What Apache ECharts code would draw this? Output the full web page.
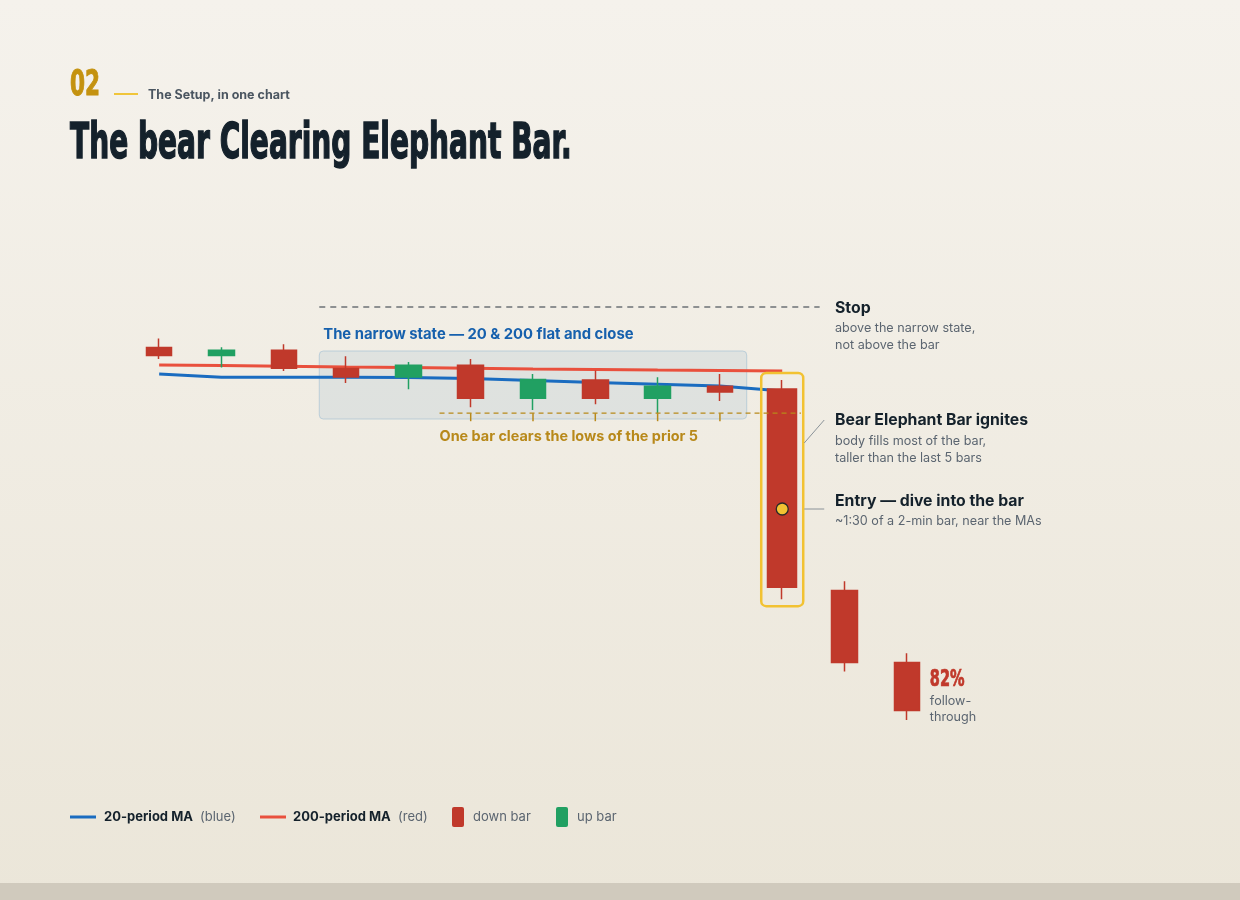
<!DOCTYPE html>
<html>
<head>
<meta charset="utf-8">
<script src="https://cdn.jsdelivr.net/npm/echarts@6/dist/echarts.min.js"></script>
<style>
  html, body { margin: 0; padding: 0; }
  body { background: linear-gradient(#f5f2ec, #ebe6d9); }
  #main { width: 1240px; height: 900px; }
</style>
</head>
<body>
<div id="main"></div>
<script>
// bars, left to right (price units are arbitrary)
var categories = ['1', '2', '3', '4', '5', '6', '7', '8', '9', '10', '11', '12', '13'];
var opens  = [97.63, 97.22, 97.49, 96.57, 96.15, 96.74, 95.09, 96.00, 95.09, 95.69, 95.55, 85.47, 81.87];
var closes = [97.22, 97.49, 96.59, 96.15, 96.74, 95.09, 96.02, 95.09, 95.69, 95.40, 85.64, 81.87, 79.47];
var lows   = [97.05, 96.62, 96.45, 95.85, 95.54, 94.64, 94.50, 94.79, 94.34, 94.95, 85.04, 81.42, 79.00];
var highs  = [98.08, 97.64, 97.79, 97.19, 96.90, 97.05, 96.30, 96.47, 96.14, 96.30, 96.00, 85.94, 82.34];
var ma20   = [96.30, 96.14, 96.14, 96.14, 96.13, 96.08, 95.98, 95.88, 95.79, 95.70, 95.45];
var ma200  = [96.75, 96.73, 96.69, 96.65, 96.62, 96.59, 96.55, 96.53, 96.50, 96.48, 96.45];

var stopPrice = 99.65;
var narrowTop = 97.45, narrowBottom = 94.05;
var entryPrice = 89.55;
var elephantIndex = 10;
var priorFive = [5, 6, 7, 8, 9];

var RED = '#c0392b', GREEN = '#21a062', BLUE = '#1a6cc0', MARED = '#e9503d';
var INK = '#14212b', GREY = '#5b6570', GOLD = '#b8891a';
var SANS = 'Inter, "Noto Sans", sans-serif';
var NARROW = '"Liberation Sans Narrow", "DejaVu Sans Condensed", sans-serif';

var myChart = echarts.init(document.getElementById('main'));

var candleData = categories.map(function (c, i) {
  return i === elephantIndex ? '-' : [opens[i], closes[i], lows[i], highs[i]];
});
var elephantData = categories.map(function (c, i) {
  return i === elephantIndex ? [opens[i], closes[i], lows[i], highs[i]] : '-';
});
var candleStyle = { color: GREEN, color0: RED, borderColor: GREEN, borderColor0: RED, borderWidth: 1.5 };

myChart.setOption({
  animation: false,
  grid: { left: 128, right: 302, top: 300, bottom: 160 },
  xAxis: { type: 'category', data: categories, show: false, boundaryGap: true },
  yAxis: { type: 'value', min: 78, max: 100, show: false },
  series: [
    { name: '200-period MA', type: 'line', data: ma200, symbol: 'none', z: 1,
      lineStyle: { color: MARED, width: 3 } },
    { name: '20-period MA', type: 'line', data: ma20, symbol: 'none', z: 1,
      lineStyle: { color: BLUE, width: 3 } },
    { type: 'candlestick', data: candleData, barWidth: 26, z: 3, itemStyle: candleStyle },
    { type: 'candlestick', data: elephantData, barWidth: 30, z: 3, itemStyle: candleStyle }
  ]
});

// annotation positions come from the chart's own scales
var x0 = myChart.convertToPixel({ gridIndex: 0 }, [0, 90])[0];
var step = myChart.convertToPixel({ gridIndex: 0 }, [1, 90])[0] - x0;
function xAt(i) { return x0 + i * step; }
function yAt(p) { return myChart.convertToPixel({ gridIndex: 0 }, [0, p])[1]; }

var clearLow = Math.min.apply(null, priorFive.map(function (i) { return lows[i]; }));
var yClear = yAt(clearLow);
var ex = xAt(elephantIndex);
var boxTop = yAt(highs[elephantIndex]) - 7, boxBot = yAt(lows[elephantIndex]) + 7;
var lx = 835;

function txt(x, y, s, size, color, weight, family, extra) {
  var el = { type: 'text', x: x, y: y, z: 50,
    style: { text: s, fontSize: size, fill: color, fontWeight: weight || 'normal',
      fontFamily: family || SANS, verticalAlign: 'middle', align: 'left' } };
  if (extra) for (var k in extra) el[k] = extra[k];
  return el;
}
function heavy(el, w) {
  el.style.stroke = el.style.fill;
  el.style.lineWidth = w;
  return el;
}
function seg(x1, y1, x2, y2, color, w, dash) {
  return { type: 'line', z: 5, shape: { x1: x1, y1: y1, x2: x2, y2: y2 },
    style: { stroke: color, lineWidth: w, lineDash: dash || null } };
}

var g = [];
g.push({ type: 'rect', shape: { x: 0, y: 883, width: 1240, height: 17 }, style: { fill: '#d0cabd' } });
// header
g.push(heavy(txt(70, 86, '02', 30, '#c4920f', 'bold', NARROW, { scaleX: 0.8, scaleY: 1.2 }), 0.8));
g.push(seg(114, 94, 138, 94, '#f0c53a', 2));
g.push(txt(148, 95, 'The Setup, in one chart', 12.5, '#4a5560', 'bold'));
g.push(heavy(txt(70, 145, 'The bear Clearing Elephant Bar.', 40, INK, 'bold', NARROW, { scaleX: 0.78, scaleY: 1.25 }), 1.2));

// narrow state box
var nx1 = xAt(2.57), nx2 = xAt(9.43);
g.push({ type: 'rect', z: 0, shape: { x: nx1, y: yAt(narrowTop), width: nx2 - nx1, height: yAt(narrowBottom) - yAt(narrowTop), r: 4 },
  style: { fill: 'rgba(190,205,215,0.35)', stroke: 'rgba(170,195,212,0.7)', lineWidth: 1 } });
g.push(txt(nx1 + 4, 335, 'The narrow state — 20 & 200 flat and close', 14.8, '#1660ad', 'bold'));

// stop line
g.push(seg(nx1, yAt(stopPrice), xAt(10.6), yAt(stopPrice), '#6c7175', 1.6, [6, 5]));
g.push(txt(lx, 308, 'Stop', 15.8, INK, 'bold'));
g.push(txt(lx, 328, 'above the narrow state,', 12.6, GREY));
g.push(txt(lx, 345, 'not above the bar', 12.6, GREY));

// clearing line with ticks under the prior five
g.push(seg(xAt(4.5), yClear, xAt(10.3), yClear, GOLD, 1.3, [5, 4]));
priorFive.forEach(function (i) { g.push(seg(xAt(i), yClear, xAt(i), yClear + 8, GOLD, 1.5)); });
g.push(txt(xAt(4.5), 437, 'One bar clears the lows of the prior 5', 14.4, GOLD, 'bold'));

// elephant bar frame, entry dot, callouts
g.push({ type: 'rect', z: 4, shape: { x: ex - 21, y: boxTop, width: 42, height: boxBot - boxTop, r: 5 },
  style: { fill: 'none', stroke: '#f2c232', lineWidth: 2.5 } });
g.push({ type: 'circle', z: 60, shape: { cx: ex, cy: yAt(entryPrice), r: 6 },
  style: { fill: '#f2c232', stroke: '#2a2a2a', lineWidth: 1.3 } });
g.push(seg(ex + 22, 443, ex + 42, 420, '#8a9298', 1));
g.push(seg(ex + 22, yAt(entryPrice), ex + 42, yAt(entryPrice), '#8a9298', 1));
g.push(txt(lx, 420, 'Bear Elephant Bar ignites', 15.8, INK, 'bold'));
g.push(txt(lx, 441, 'body fills most of the bar,', 12.6, GREY));
g.push(txt(lx, 458, 'taller than the last 5 bars', 12.6, GREY));
g.push(txt(lx, 501, 'Entry — dive into the bar', 15.8, INK, 'bold'));
g.push(txt(lx, 521, '~1:30 of a 2-min bar, near the MAs', 12.6, GREY));

// follow-through
var fx = xAt(12) + 23;
g.push(heavy(txt(fx, 680, '82%', 19, RED, 'bold', NARROW, { scaleX: 0.85, scaleY: 1.2 }), 0.6));
g.push(txt(fx, 701, 'follow-', 12.6, GREY));
g.push(txt(fx, 717, 'through', 12.6, GREY));

// legend
var ly = 817;
g.push(seg(70, ly, 96, ly, BLUE, 3));
g.push(txt(104, ly, '20-period MA', 13, INK, 'bold'));
g.push(txt(200, ly, '(blue)', 13, GREY));
g.push(seg(260, ly, 286, ly, MARED, 3));
g.push(txt(293, ly, '200-period MA', 13, INK, 'bold'));
g.push(txt(398, ly, '(red)', 13, GREY));
g.push({ type: 'rect', shape: { x: 452, y: 807, width: 12, height: 20, r: 2 }, style: { fill: RED } });
g.push(txt(473, ly, 'down bar', 13, GREY));
g.push({ type: 'rect', shape: { x: 556, y: 807, width: 12, height: 20, r: 2 }, style: { fill: GREEN } });
g.push(txt(577, ly, 'up bar', 13, GREY));

myChart.setOption({ graphic: g });
</script>
</body>
</html>
